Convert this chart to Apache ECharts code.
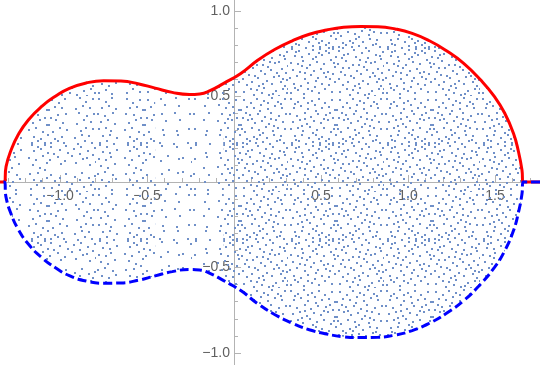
<!DOCTYPE html>
<html>
<head>
<meta charset="utf-8">
<script src="https://cdn.jsdelivr.net/npm/echarts@6/dist/echarts.min.js"></script>
<style>html,body{margin:0;padding:0;background:#fff}#c{width:540px;height:365px}</style>
</head>
<body>
<div id="c"></div>
<script>
// Curve samples (x, upper y, lower y)
const xs     = [-1.40, -1.320, -1.310, -1.281, -1.241, -1.182, -1.103, -1.024, -0.946, -0.847, -0.749, -0.650, -0.552, -0.453, -0.355, -0.256, -0.197, -0.138, -0.059, 0.039, 0.138, 0.236, 0.335, 0.433, 0.532, 0.630, 0.729, 0.827, 0.926, 1.024, 1.123, 1.221, 1.320, 1.418, 1.497, 1.556, 1.606, 1.635, 1.655, 1.661, 1.80];
const upperY = [0, 0, 0.090, 0.187, 0.275, 0.363, 0.444, 0.503, 0.548, 0.580, 0.592, 0.590, 0.575, 0.549, 0.524, 0.512, 0.515, 0.534, 0.577, 0.635, 0.713, 0.776, 0.826, 0.864, 0.889, 0.905, 0.910, 0.908, 0.895, 0.869, 0.826, 0.768, 0.694, 0.596, 0.499, 0.402, 0.285, 0.177, 0.070, 0, 0];
const lowerY = [0, 0, -0.090, -0.187, -0.275, -0.363, -0.444, -0.503, -0.548, -0.580, -0.592, -0.590, -0.575, -0.549, -0.524, -0.512, -0.515, -0.534, -0.577, -0.635, -0.713, -0.776, -0.826, -0.864, -0.889, -0.905, -0.910, -0.908, -0.895, -0.869, -0.826, -0.768, -0.694, -0.596, -0.499, -0.402, -0.285, -0.177, -0.070, 0, 0];
const xTicks = [-1.0, -0.5, 0.5, 1.0, 1.5];
const yTicks = [-1.0, -0.5, 0.5, 1.0];

// dot texture tiles (style only)
const baseDots = [[2,2],[9,5],[15,1],[23,4],[30,2],[36,6],[43,3],
 [5,11],[12,9],[19,12],[26,8],[33,11],[40,10],[46,13],
 [1,17],[8,19],[16,16],[22,20],[29,17],[37,18],[44,21],
 [4,25],[11,23],[18,27],[25,24],[32,26],[39,23],[46,28],
 [2,32],[9,31],[14,34],[21,30],[28,33],[35,31],[42,35],
 [6,39],[13,38],[20,41],[27,38],[33,40],[40,42],[47,38],
 [3,46],[10,44],[17,47],[24,45],[31,46],[37,44],[44,46]];
const extraDots = [[6,7],[27,14],[41,16],[13,29],[35,22],[24,36],[45,32],[7,43],[30,42],[19,6],[40,47],[16,22]];
function makeTile(pts){
  const c=document.createElement('canvas'); c.width=96; c.height=96;
  const g=c.getContext('2d'); g.fillStyle='#7090c8';
  pts.forEach(p=>{
    g.fillRect(p[0],p[1],2,2);
    g.fillRect(48+46-p[0],p[1],2,2);
    g.fillRect(p[0],48+46-p[1],2,2);
    g.fillRect(48+p[1],48+p[0],2,2);
  });
  return c;
}
const denseTile  = makeTile(baseDots.concat(extraDots));
const mediumTile = makeTile(baseDots.filter((p,i)=>i%7!==3));
const sparseTile = makeTile(baseDots.filter((p,i)=>i%2===0));

const up = xs.map((x,i)=>[x,upperY[i]]);
const lo = xs.map((x,i)=>[x,lowerY[i]]);
const inner = arr => arr.slice(1, arr.length-1);
const seg = (arr,a,b) => inner(arr).filter(p=>p[0]>=a-1e-9 && p[0]<=b+1e-9);
const SPLIT1 = -0.453, SPLIT2 = -0.059;

const fmt = v => (v<0?'\u2212':'') + Math.abs(v).toFixed(1);
const axisCol = '#b3b3b3';
const labelStyle = {color:'#606060', fontSize:14, fontFamily:'Liberation Sans'};
const SM = 0.5;
function fill(data, tile){
  return {type:'line', xAxisIndex:0, yAxisIndex:0, data, smooth:SM, showSymbol:false, silent:true,
    lineStyle:{width:0, opacity:0}, areaStyle:{color:{image:tile, repeat:'repeat'}, opacity:1}, z:1};
}
const chart = echarts.init(document.getElementById('c'), null, {renderer:'canvas'});
chart.setOption({
  animation:false,
  grid:[
    {left:-27, top:-74.5, width:609, height:513, outerBoundsMode:'none'},
    {left:-27, top:-74.5, width:609, height:256.5, outerBoundsMode:'none'},
    {left:234, top:-74.5, width:348, height:513, outerBoundsMode:'none'}
  ],
  xAxis:[
    {gridIndex:0, type:'value', min:-1.5, max:2.0, show:false},
    {gridIndex:1, type:'value', min:-1.5, max:2.0, interval:0.5, position:'bottom',
      axisLine:{onZero:false, lineStyle:{color:axisCol, width:1}},
      axisTick:{inside:true, length:7, lineStyle:{color:axisCol}},
      minorTick:{show:true, splitNumber:5, length:4, lineStyle:{color:axisCol}},
      splitLine:{show:false},
      axisLabel:Object.assign({margin:7, formatter:v=>xTicks.some(t=>Math.abs(t-v)<1e-9)?fmt(v):''}, labelStyle)},
    {gridIndex:2, type:'value', min:0, max:2.0, show:false}
  ],
  yAxis:[
    {gridIndex:0, type:'value', min:-1.5, max:1.5, show:false},
    {gridIndex:1, type:'value', min:0, max:1.5, show:false},
    {gridIndex:2, type:'value', min:-1.5, max:1.5, interval:0.5, position:'left',
      axisLine:{onZero:false, lineStyle:{color:axisCol, width:1}},
      axisTick:{inside:true, length:7, lineStyle:{color:axisCol}},
      minorTick:{show:true, splitNumber:5, length:4, lineStyle:{color:axisCol}},
      splitLine:{show:false},
      axisLabel:Object.assign({margin:4, formatter:v=>yTicks.some(t=>Math.abs(t-v)<1e-9)?fmt(v):''}, labelStyle)}
  ],
  series:[
    fill(seg(up,-9,SPLIT1), mediumTile), fill(seg(up,SPLIT1,SPLIT2), sparseTile), fill(seg(up,SPLIT2,9), denseTile),
    fill(seg(lo,-9,SPLIT1), mediumTile), fill(seg(lo,SPLIT1,SPLIT2), sparseTile), fill(seg(lo,SPLIT2,9), denseTile),
    {type:'line', xAxisIndex:0, yAxisIndex:0, data:up, smooth:SM, showSymbol:false, z:5,
      lineStyle:{color:'#ff0000', width:3}},
    {type:'line', xAxisIndex:0, yAxisIndex:0, data:lo, smooth:SM, showSymbol:false, z:6,
      lineStyle:{color:'#0000ff', width:3, type:[9,4]}}
  ]
});
</script>
</body>
</html>
